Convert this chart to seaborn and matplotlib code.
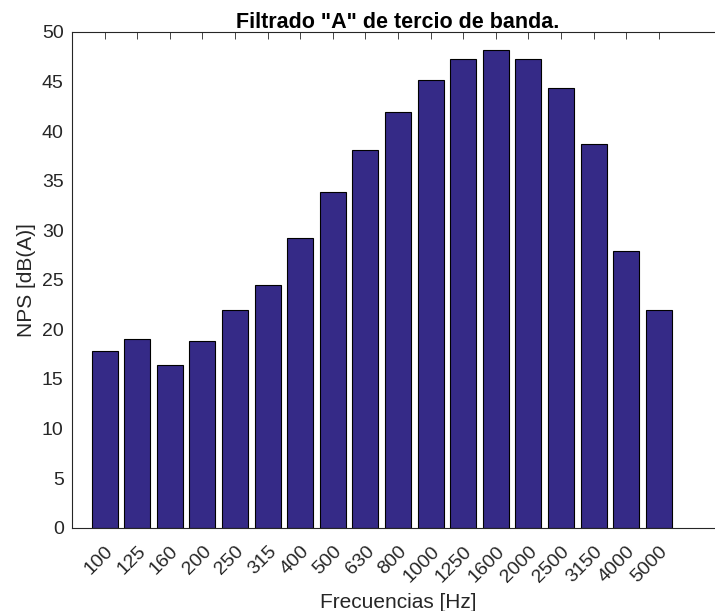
import numpy as np
import pandas as pd
import matplotlib
matplotlib.use("Agg")
import matplotlib.pyplot as plt
import seaborn as sns

# third-octave bands and A-weighted levels
bandas = ["100", "125", "160", "200", "250", "315", "400", "500", "630", "800",
          "1000", "1250", "1600", "2000", "2500", "3150", "4000", "5000"]
nps = [17.8, 19.0, 16.4, 18.8, 22.0, 24.5, 29.2, 33.9, 38.1, 41.9,
       45.2, 47.3, 48.15, 47.3, 44.4, 38.7, 27.9, 22.0]

df = pd.DataFrame({"banda": bandas, "nps": nps})

sns.set_style("white")
plt.rcParams['font.family'] = ['Liberation Sans', 'DejaVu Sans']

fig = plt.figure(figsize=(7.15, 6.11), dpi=100)
ax = fig.add_axes([72 / 715, 83.3 / 611, 652 / 715, 495.7 / 611])

sns.barplot(data=df, x="banda", y="nps", order=bandas, color="#352A87",
            saturation=1, width=0.8, edgecolor="black", linewidth=0.8, ax=ax)

gris = "#262626"
ax.set_xlim(-1, 19)
ax.set_ylim(0, 50)
ax.set_yticks(np.arange(0, 51, 5))
ax.set_xticks(range(len(bandas)))
ax.set_xticklabels(bandas, rotation=45, ha="right", rotation_mode="anchor")
ax.tick_params(direction="in", top=True, right=True, length=5, width=0.6,
               colors=gris, labelsize=14, pad=6)
ax.tick_params(axis="x", pad=11)
for s in ax.spines.values():
    s.set_color(gris)
    s.set_linewidth(0.8)

ax.set_xlabel("Frecuencias [Hz]", fontsize=15, color=gris, labelpad=5)
ax.set_ylabel("NPS [dB(A)]", fontsize=15, color=gris, labelpad=4)
ax.set_title('Filtrado "A" de tercio de banda.', fontsize=15.5,
             fontweight="bold", color="black", pad=3)

fig.savefig("out.png", dpi=100)
